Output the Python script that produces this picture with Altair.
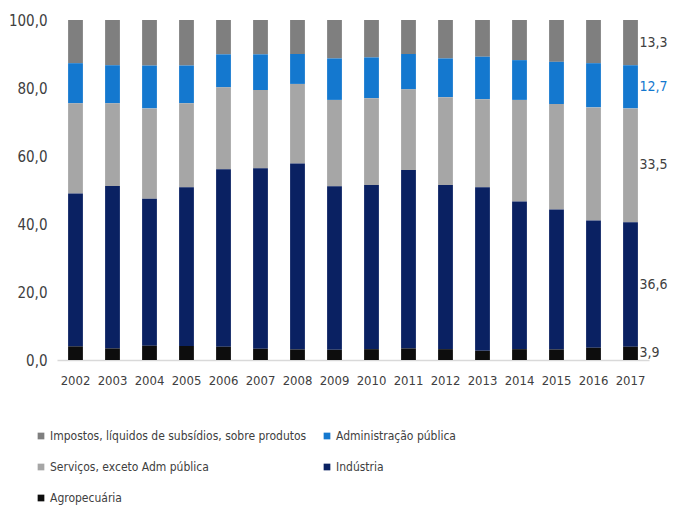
import altair as alt
import pandas as pd

years = [str(y) for y in range(2002, 2018)]
agro = [4.0, 3.4, 4.2, 4.1, 3.9, 3.3, 3.1, 3.0, 3.2, 3.4, 3.2, 2.7, 3.2, 3.1, 3.6, 3.9]
industria = [45.0, 47.8, 43.2, 46.7, 52.2, 53.1, 54.7, 48.1, 48.3, 52.5, 48.3, 48.1, 43.4, 41.2, 37.4, 36.6]
servicos = [26.5, 24.3, 26.6, 24.7, 24.1, 23.0, 23.4, 25.4, 25.5, 23.7, 25.8, 25.9, 29.9, 31.0, 33.3, 33.5]
adm = [11.8, 11.2, 12.6, 11.1, 9.7, 10.5, 8.8, 12.2, 12.0, 10.4, 11.4, 12.5, 11.7, 12.4, 13.0, 12.7]
impostos = [12.7, 13.3, 13.4, 13.4, 10.1, 10.1, 10.0, 11.3, 11.0, 10.0, 11.3, 10.8, 11.8, 12.3, 12.7, 13.3]

series_names = [
    "Impostos, líquidos de subsídios, sobre produtos",
    "Administração pública",
    "Serviços, exceto Adm pública",
    "Indústria",
    "Agropecuária",
]
series_colors = ["#7F7F7F", "#1478CF", "#A6A6A6", "#0A2162", "#0D0D0D"]
stack_order = {"Agropecuária": 0, "Indústria": 1, "Serviços, exceto Adm pública": 2,
               "Administração pública": 3, "Impostos, líquidos de subsídios, sobre produtos": 4}
series_values = {
    "Impostos, líquidos de subsídios, sobre produtos": impostos,
    "Administração pública": adm,
    "Serviços, exceto Adm pública": servicos,
    "Indústria": industria,
    "Agropecuária": agro,
}

rows = []
for name, vals in series_values.items():
    for y, v in zip(years, vals):
        rows.append({"ano": y, "setor": name, "valor": v, "ordem": stack_order[name]})
df = pd.DataFrame(rows)

last = years[-1]
lab_rows = []
cum = 0.0
bottom_up = ["Agropecuária", "Indústria", "Serviços, exceto Adm pública",
             "Administração pública", "Impostos, líquidos de subsídios, sobre produtos"]
for name in bottom_up:
    v = series_values[name][-1]
    lab_rows.append({"ano": last, "setor": name, "mid": cum + v / 2,
                     "txt": f"{v:.1f}".replace(".", ","),
                     "cor": "#1478CF" if name == "Administração pública" else "#404040"})
    cum += v
labels = pd.DataFrame(lab_rows)

FONT = "'Liberation Sans Narrow', 'Arial Narrow', 'DejaVu Sans Condensed', 'Roboto Condensed', 'Liberation Sans', sans-serif"

x_enc = alt.X("ano:N", sort=years, title=None,
              scale=alt.Scale(paddingInner=0.6, paddingOuter=0.3),
              axis=alt.Axis(labelAngle=0, ticks=False, domain=True, domainColor="#D9D9D9",
                            domainWidth=1.5, labelFont=FONT, labelFontSize=13,
                            labelColor="#404040", labelPadding=14, grid=False))

bars = alt.Chart(df).mark_bar().encode(
    x=x_enc,
    y=alt.Y("valor:Q", stack="zero", title=None,
            scale=alt.Scale(domain=[0, 100], nice=False),
            axis=alt.Axis(values=[0, 20, 40, 60, 80, 100], grid=False, ticks=False,
                          domain=False, labelFont=FONT, labelFontSize=15,
                          labelColor="#404040", labelPadding=10,
                          labelExpr="replace(format(datum.value, '.1f'), '.', ',')")),
    color=alt.Color("setor:N", scale=alt.Scale(domain=series_names, range=series_colors),
                    legend=alt.Legend(title=None, orient="none", legendX=-22, legendY=410,
                                      direction="horizontal",
                                      columns=2, columnPadding=14, rowPadding=19,
                                      symbolType="square", symbolSize=45,
                                      symbolStrokeWidth=0, labelFont=FONT,
                                      labelFontSize=12, labelColor="#404040",
                                      labelOffset=3, labelLimit=400)),
    order=alt.Order("ordem:Q", sort="ascending"),
)

texts = alt.Chart(labels).mark_text(align="left", baseline="middle", dx=9,
                                    font=FONT, fontSize=14).encode(
    x=alt.X("ano:N", sort=years),
    y=alt.Y("mid:Q"),
    text="txt:N",
    color=alt.Color("cor:N", scale=None),
)

chart = alt.layer(bars, texts).properties(
    width=592, height=340,
    autosize=alt.AutoSizeParams(type="none"),
    padding={"left": 49, "top": 12, "right": 20, "bottom": 150},
).configure_view(stroke=None)

chart.save("out.html", embed_options={"renderer": "svg", "actions": False})
